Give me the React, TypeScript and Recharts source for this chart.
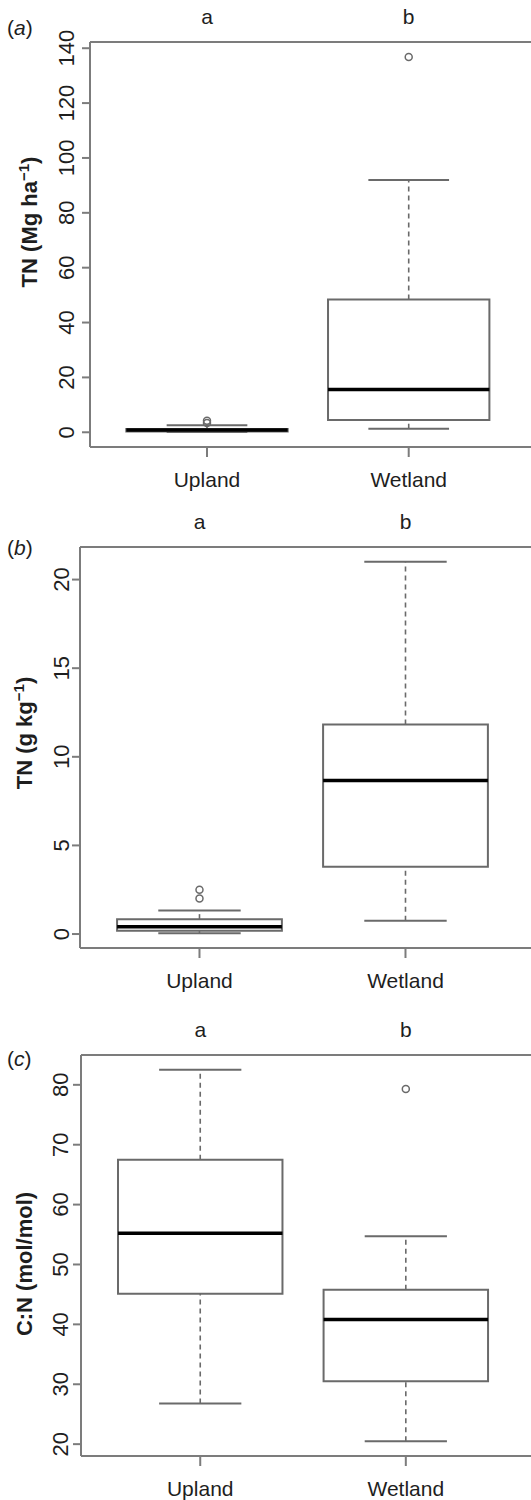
import React from "react";
import {
  ComposedChart,
  XAxis,
  YAxis,
  Scatter,
  ReferenceArea,
  ReferenceLine,
} from "recharts";

const groups = ["Upland", "Wetland"];
const letters = ["a", "b"];

// (a) TN stock, Mg ha-1
const stockMin = [0.1, 1.3];
const stockQ1 = [0.3, 4.5];
const stockMed = [0.8, 15.6];
const stockQ3 = [1.2, 48.4];
const stockMax = [2.6, 92];
const stockOut = [[3.4, 4.2], [136.8]];
const stockTicks = [0, 20, 40, 60, 80, 100, 120, 140];

// (b) TN concentration, g kg-1
const concMin = [0.05, 0.75];
const concQ1 = [0.19, 3.8];
const concMed = [0.41, 8.67];
const concQ3 = [0.84, 11.82];
const concMax = [1.33, 21.0];
const concOut = [[2.0, 2.5], []];
const concTicks = [0, 5, 10, 15, 20];

// (c) C:N, mol/mol
const cnMin = [26.8, 20.5];
const cnQ1 = [45.1, 30.5];
const cnMed = [55.2, 40.8];
const cnQ3 = [67.5, 45.8];
const cnMax = [82.5, 54.7];
const cnOut = [[], [79.3]];
const cnTicks = [20, 30, 40, 50, 60, 70, 80];

const FONT = "'Liberation Sans', Arial, sans-serif";
const FRAME = "#7c7c7c";
const BOX = "#6a6a6a";
const INK = "#1e1e1e";
const CHART_W = 560;
const X_DOMAIN = [0.42, 2.75];
const BOX_HALF = 0.4;
const CAP_HALF = 0.2;

type Stats = {
  min: number[];
  q1: number[];
  med: number[];
  q3: number[];
  max: number[];
  out: number[][];
};

// R-style axis range: data range padded by 4% each side
function rDomain(s: Stats): [number, number] {
  const all = [...s.min, ...s.max, ...s.out.flat()];
  const lo = Math.min(...all);
  const hi = Math.max(...all);
  const pad = (hi - lo) * 0.04;
  return [lo - pad, hi + pad];
}

function YTick(props: any) {
  const { x, y, payload } = props;
  return (
    <text
      x={x}
      y={y}
      transform={`rotate(-90 ${x} ${y})`}
      textAnchor="middle"
      fontSize={22}
      fontFamily={FONT}
      fill={INK}
    >
      {payload.value}
    </text>
  );
}

function BottomTick(props: any) {
  const { x, y, payload } = props;
  return (
    <text
      x={x}
      y={y}
      dy="0.72em"
      textAnchor="middle"
      fontSize={21}
      fontFamily={FONT}
      fill={INK}
    >
      {groups[payload.value - 1]}
    </text>
  );
}

function TopTick(props: any) {
  const { x, y, payload } = props;
  return (
    <text
      x={x}
      y={y}
      textAnchor="middle"
      fontSize={21}
      fontFamily={FONT}
      fill={INK}
    >
      {letters[payload.value - 1]}
    </text>
  );
}

function OpenDot(props: any) {
  const { cx, cy } = props;
  return <circle cx={cx} cy={cy} r={3.5} fill="none" stroke={BOX} strokeWidth={1.5} />;
}

type PanelProps = {
  top: number;
  height: number;
  plotTop: number;
  plotBottom: number;
  plotLeft: number;
  tickGap: number;
  stats: Stats;
  ticks: number[];
};

function BoxPanel({ top, height, plotTop, plotBottom, plotLeft, tickGap, stats, ticks }: PanelProps) {
  const outliers = stats.out.flatMap((vals, i) => vals.map((v) => ({ x: i + 1, y: v })));
  const bottomAxisH = height - (plotBottom - top);
  return (
    <div style={{ position: "absolute", left: 0, top }}>
      <ComposedChart
        width={CHART_W}
        height={height}
        margin={{ top: plotTop - top - 30, right: 0, bottom: 0, left: 0 }}
      >
        <XAxis
          xAxisId="t"
          orientation="top"
          dataKey="x"
          type="number"
          domain={X_DOMAIN}
          ticks={[1, 2]}
          allowDataOverflow
          height={30}
          tickSize={0}
          tickMargin={18}
          tickLine={false}
          axisLine={{ stroke: FRAME, strokeWidth: 2 }}
          tick={<TopTick />}
        />
        <XAxis
          xAxisId="b"
          dataKey="x"
          type="number"
          domain={X_DOMAIN}
          ticks={[1, 2]}
          allowDataOverflow
          height={bottomAxisH}
          tickSize={10}
          tickMargin={15}
          tickLine={{ stroke: FRAME, strokeWidth: 2 }}
          axisLine={{ stroke: FRAME, strokeWidth: 2 }}
          tick={<BottomTick />}
        />
        <YAxis
          type="number"
          domain={rDomain(stats)}
          ticks={ticks}
          interval={0}
          allowDataOverflow
          width={plotLeft}
          tickSize={8}
          tickMargin={tickGap}
          tickLine={{ stroke: FRAME, strokeWidth: 2 }}
          axisLine={{ stroke: FRAME, strokeWidth: 2 }}
          tick={<YTick />}
        />
        {groups.map((g, i) => (
          <React.Fragment key={g}>
            <ReferenceLine
              xAxisId="b"
              segment={[{ x: i + 1, y: stats.q3[i] }, { x: i + 1, y: stats.max[i] }]}
              stroke={BOX}
              strokeWidth={1.6}
              strokeDasharray="5 4"
              ifOverflow="visible"
            />
            <ReferenceLine
              xAxisId="b"
              segment={[{ x: i + 1, y: stats.min[i] }, { x: i + 1, y: stats.q1[i] }]}
              stroke={BOX}
              strokeWidth={1.6}
              strokeDasharray="5 4"
              ifOverflow="visible"
            />
            <ReferenceLine
              xAxisId="b"
              segment={[{ x: i + 1 - CAP_HALF, y: stats.max[i] }, { x: i + 1 + CAP_HALF, y: stats.max[i] }]}
              stroke={BOX}
              strokeWidth={2}
              ifOverflow="visible"
            />
            <ReferenceLine
              xAxisId="b"
              segment={[{ x: i + 1 - CAP_HALF, y: stats.min[i] }, { x: i + 1 + CAP_HALF, y: stats.min[i] }]}
              stroke={BOX}
              strokeWidth={2}
              ifOverflow="visible"
            />
            <ReferenceArea
              xAxisId="b"
              x1={i + 1 - BOX_HALF}
              x2={i + 1 + BOX_HALF}
              y1={stats.q1[i]}
              y2={stats.q3[i]}
              fill="#ffffff"
              fillOpacity={1}
              stroke={BOX}
              strokeWidth={2}
              ifOverflow="visible"
            />
            <ReferenceLine
              xAxisId="b"
              segment={[{ x: i + 1 - BOX_HALF, y: stats.med[i] }, { x: i + 1 + BOX_HALF, y: stats.med[i] }]}
              stroke="#000000"
              strokeWidth={3.5}
              ifOverflow="visible"
            />
          </React.Fragment>
        ))}
        <Scatter
          xAxisId="b"
          data={outliers}
          dataKey="y"
          shape={<OpenDot />}
          isAnimationActive={false}
        />
      </ComposedChart>
    </div>
  );
}

function PanelTag({ x, y, letter }: { x: number; y: number; letter: string }) {
  return (
    <text x={x} y={y} fontSize={21} fontFamily={FONT} fill={INK}>
      (<tspan fontStyle="italic">{letter}</tspan>)
    </text>
  );
}

function YTitle({ x, y, main, sup, tail }: { x: number; y: number; main: string; sup?: string; tail?: string }) {
  return (
    <text
      x={x}
      y={y}
      transform={`rotate(-90 ${x} ${y})`}
      textAnchor="middle"
      fontSize={22}
      fontWeight="bold"
      fontFamily={FONT}
      fill={INK}
    >
      {main}
      {sup && (
        <tspan dy={-8} fontSize={15}>
          {sup}
        </tspan>
      )}
      {tail && <tspan dy={sup ? 8 : 0}>{tail}</tspan>}
    </text>
  );
}

export default function App() {
  const stock = { min: stockMin, q1: stockQ1, med: stockMed, q3: stockQ3, max: stockMax, out: stockOut };
  const conc = { min: concMin, q1: concQ1, med: concMed, q3: concQ3, max: concMax, out: concOut };
  const cn = { min: cnMin, q1: cnQ1, med: cnMed, q3: cnQ3, max: cnMax, out: cnOut };
  return (
    <div
      style={{
        position: "absolute",
        left: 0,
        top: 0,
        width: 531,
        height: 1500,
        overflow: "hidden",
        background: "#ffffff",
      }}
    >
      <BoxPanel top={0} height={497} plotTop={42} plotBottom={447} plotLeft={90} tickGap={8} stats={stock} ticks={stockTicks} />
      <BoxPanel top={497} height={501} plotTop={547} plotBottom={948} plotLeft={80} tickGap={3} stats={conc} ticks={concTicks} />
      <BoxPanel top={998} height={502} plotTop={1055} plotBottom={1456} plotLeft={81} tickGap={5} stats={cn} ticks={cnTicks} />
      <svg
        width={531}
        height={1500}
        style={{ position: "absolute", left: 0, top: 0, pointerEvents: "none" }}
      >
        <PanelTag x={7} y={35} letter="a" />
        <PanelTag x={7} y={555} letter="b" />
        <PanelTag x={7} y={1066} letter="c" />
        <YTitle x={37} y={222} main="TN (Mg ha" sup="−1" tail=")" />
        <YTitle x={32} y={733} main="TN (g kg" sup="−1" tail=")" />
        <YTitle x={32} y={1264} main="C:N (mol/mol)" />
      </svg>
    </div>
  );
}
